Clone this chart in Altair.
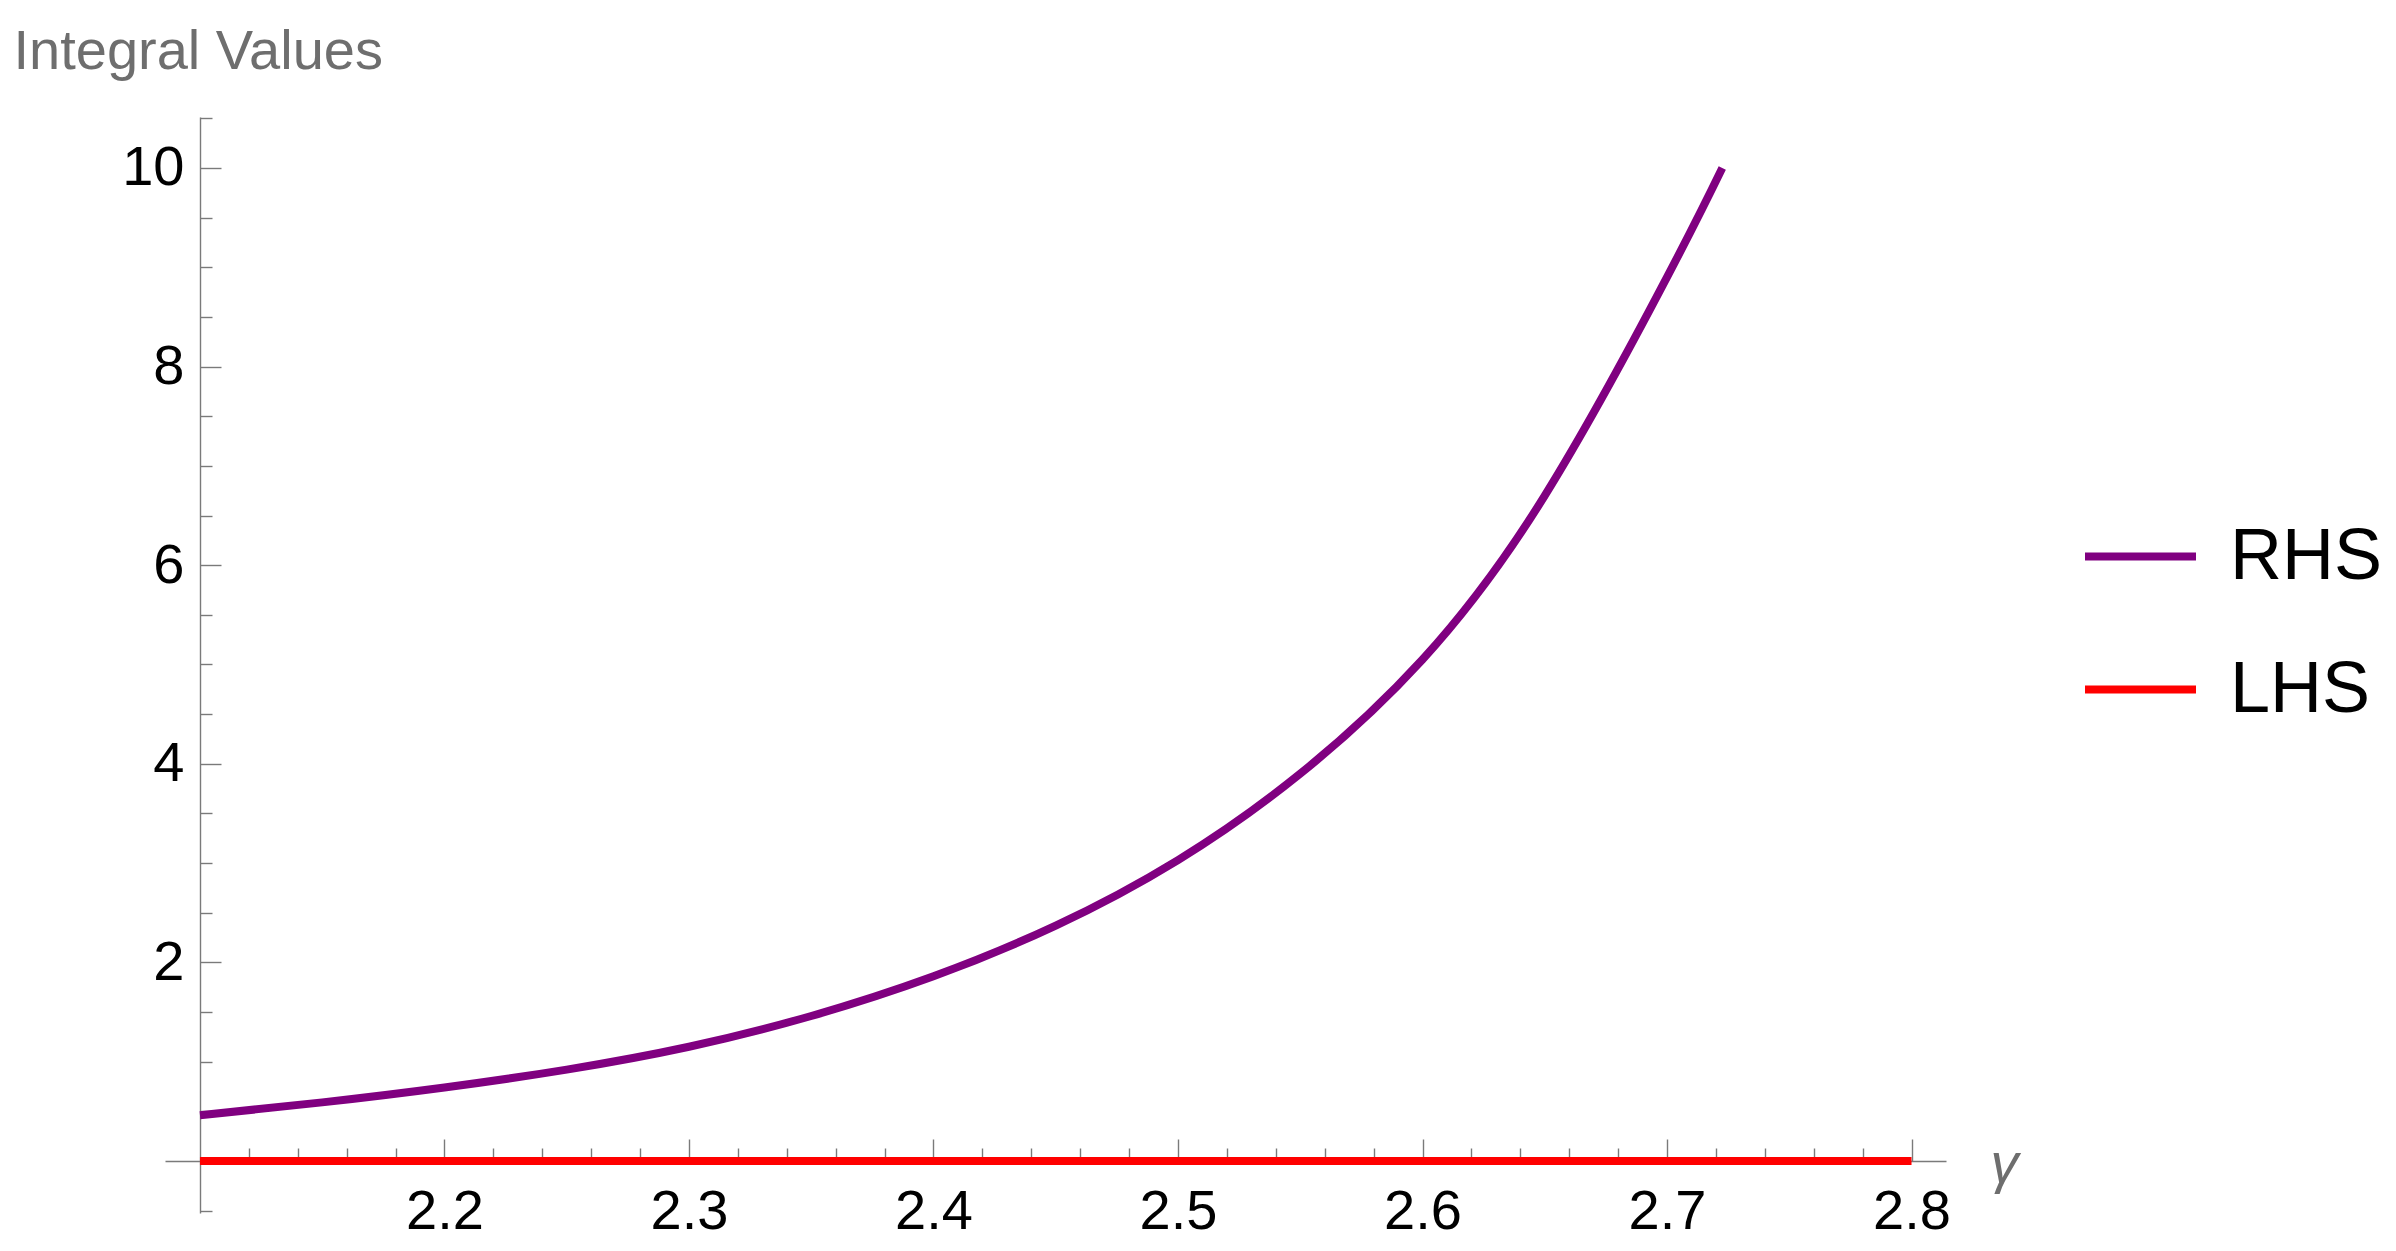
import altair as alt
import pandas as pd

# ---- data ----
rhs_gamma = [2.10, 2.15, 2.20, 2.25, 2.30, 2.35, 2.40, 2.45, 2.50, 2.55,
             2.60, 2.65, 2.70, 2.7226]
rhs_value = [0.46, 0.59, 0.74, 0.92, 1.15, 1.46, 1.86, 2.37, 3.03, 3.90,
             5.05, 6.70, 8.90, 10.0]
lhs_gamma = [2.10, 2.80]
lhs_value = [0.0, 0.0]

series_names = ["RHS", "LHS"]
series_colors = ["#800080", "#ff0000"]

x_label_ticks = [2.2, 2.3, 2.4, 2.5, 2.6, 2.7, 2.8]
x_all_ticks = [2.12, 2.14, 2.16, 2.18, 2.2, 2.22, 2.24, 2.26, 2.28, 2.3,
               2.32, 2.34, 2.36, 2.38, 2.4, 2.42, 2.44, 2.46, 2.48, 2.5,
               2.52, 2.54, 2.56, 2.58, 2.6, 2.62, 2.64, 2.66, 2.68, 2.7,
               2.72, 2.74, 2.76, 2.78, 2.8]
y_label_ticks = [2, 4, 6, 8, 10]
y_all_ticks = [-0.5, 0.5, 1, 1.5, 2, 2.5, 3, 3.5, 4, 4.5, 5, 5.5, 6, 6.5,
               7, 7.5, 8, 8.5, 9, 9.5, 10, 10.5]

x_domain = [2.0857, 2.8141]
y_domain = [-0.524, 10.513]

rows = []
for g, v in zip(rhs_gamma, rhs_value):
    rows.append({"series": "RHS", "g": g, "v": v})
for g, v in zip(lhs_gamma, lhs_value):
    rows.append({"series": "LHS", "g": g, "v": v})
df = pd.DataFrame(rows)

W, H = 1781, 1096
AX = "#7a7a7a"
FONT = "Liberation Sans"

xscale = alt.Scale(domain=x_domain, nice=False, zero=False)
yscale = alt.Scale(domain=y_domain, nice=False, zero=False)

lines = alt.Chart(df).mark_line(
    strokeWidth=8, interpolate="natural", strokeCap="butt"
).encode(
    x=alt.X("g:Q", scale=xscale, axis=alt.Axis(
        orient="top", offset=-(H - 52), values=x_all_ticks, labels=False,
        title=None, grid=False, domainColor=AX, domainWidth=1.4,
        tickColor=AX, tickWidth=1.4,
        tickSize={"condition": {"test": "abs(datum.value*10 - round(datum.value*10)) < 0.01", "value": 22}, "value": 13},
    )),
    y=alt.Y("v:Q", scale=yscale, axis=alt.Axis(
        orient="right", offset=-(W - 35), values=y_all_ticks, labels=False,
        title=None, grid=False, domainColor=AX, domainWidth=1.4,
        tickColor=AX, tickWidth=1.4,
        tickSize={"condition": {"test": "abs(datum.value/2 - round(datum.value/2)) < 0.01", "value": 21}, "value": 12},
    )),
    color=alt.Color("series:N", scale=alt.Scale(domain=series_names, range=series_colors),
                    legend=alt.Legend(
                        orient="none", legendX=1916, legendY=380, title=None,
                        symbolType="stroke", symbolSize=12321, symbolStrokeWidth=8,
                        labelFontSize=72, labelFont=FONT, labelColor="black",
                        labelOffset=30, rowPadding=37, padding=0,
                    )),
    detail="series:N",
)

labels = alt.Chart(df).mark_point(opacity=0).encode(
    x=alt.X("g:Q", scale=xscale, axis=alt.Axis(
        orient="bottom", offset=-52, values=x_label_ticks, ticks=False, tickSize=0,
        domain=False, grid=False, labelPadding=23, labelFontSize=56, labelFont=FONT,
        labelColor="black", format=".1f",
        title="γ", titleFont=FONT, titleFontStyle="italic", titleFontWeight="normal",
        titleFontSize=56, titleColor="#6e6e6e", titleAngle=0, titleAlign="left",
        titleBaseline="alphabetic", titleX=1825, titleY=20,
    )),
    y=alt.Y("v:Q", scale=yscale, axis=alt.Axis(
        orient="left", offset=-35, values=y_label_ticks, ticks=False, tickSize=0,
        domain=False, grid=False, labelPadding=16, labelFontSize=56, labelFont=FONT,
        labelColor="black",
        title="Integral Values", titleFont=FONT, titleFontWeight="normal",
        titleFontSize=56, titleColor="#6e6e6e", titleAngle=0, titleAlign="left",
        titleBaseline="alphabetic", titleX=-187, titleY=-49,
    )),
)

chart = alt.layer(lines, labels).resolve_scale(
    x="independent", y="independent"
).properties(
    width=W, height=H,
    autosize=alt.AutoSizeParams(type="none"),
    padding={"left": 157, "top": 109, "right": 442, "bottom": 26},
    background="white",
).configure_view(strokeWidth=0)

chart.save("out.html", embed_options={"renderer": "svg", "actions": False})
